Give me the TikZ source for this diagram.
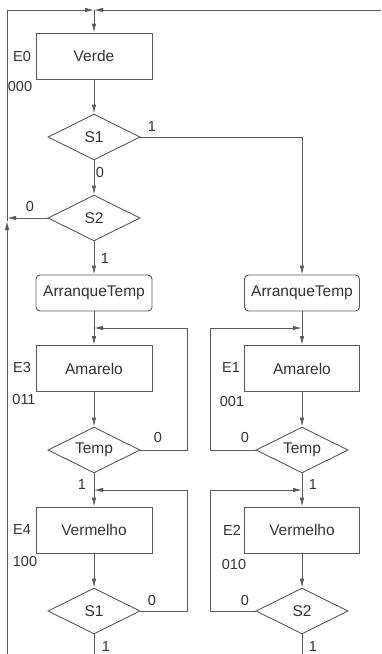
\documentclass[tikz,border=0pt]{standalone}
\usepackage{fontspec}
\setmainfont{Liberation Sans}
\usetikzlibrary{shapes.geometric,arrows.meta}
\definecolor{ink}{HTML}{5A5A5A}
\definecolor{txt}{HTML}{333333}
\tikzset{
  every node/.style={text=txt, font=\fontsize{15.5}{18}\selectfont},
  line/.style={draw=ink, line width=0.9pt},
  arr/.style={line, -{Latex[length=9pt,width=4.5pt]}},
  statebox/.style={line, rectangle, minimum width=116pt, minimum height=46pt, inner sep=0pt},
  actbox/.style={line, rectangle, rounded corners=4pt, minimum width=116pt, minimum height=36pt, inner sep=0pt},
  test/.style={line, diamond, aspect=2, minimum width=92pt, minimum height=46pt, inner sep=0pt},
  tag/.style={font=\fontsize{14.5}{17}\selectfont, inner sep=0pt},
  bit/.style={font=\fontsize{14.5}{17}\selectfont, inner sep=0pt},
}
\begin{document}
\begin{tikzpicture}[x=1pt,y=-1pt]
\useasboundingbox (0,0) rectangle (381,654);

% ---- left column: state E0 and its tests
\node[statebox] (verde) at (94,56) {Verde};
\node[tag] (e0) at (22,57) {E0};
\node[tag] (c0) at (20,87) {000};
\node[test] (s1a) at (94,137) {S1};
\node[test] (s2a) at (94,218) {S2};

% ---- left column: E3 and E4
\node[actbox] (artl) at (94,293) {ArranqueTemp};
\node[statebox] (aml) at (94,368.5) {Amarelo};
\node[tag] (e3) at (22,368) {E3};
\node[tag] (c3) at (24,400) {011};
\node[test] (tmpl) at (94,450) {Temp};
\node[statebox] (verl) at (94,530) {Vermelho};
\node[tag] (e4) at (22,530) {E4};
\node[tag] (c4) at (25,562) {100};
\node[test] (s1b) at (94,611) {S1};

% ---- right column: E1 and E2
\node[actbox, minimum width=115pt] (artr) at (302,293) {ArranqueTemp};
\node[statebox, minimum width=115pt] (amr) at (302,368.5) {Amarelo};
\node[tag] (e1) at (231,368) {E1};
\node[tag] (c1) at (232,402) {001};
\node[test] (tmpr) at (302,450) {Temp};
\node[statebox, minimum width=115pt] (verr) at (302,530) {Vermelho};
\node[tag] (e2) at (232,530) {E2};
\node[tag] (c2) at (234,565) {010};
\node[test] (s2b) at (302,611) {S2};

% ---- branch values
\node[bit] (b1) at (152,127) {1};
\node[bit] (b2) at (100,173) {0};
\node[bit] (b3) at (30,207) {0};
\node[bit] (b4) at (105,259) {1};
\node[bit] (b5) at (158,438) {0};
\node[bit] (b6) at (82,485) {1};
\node[bit] (b7) at (152,601) {0};
\node[bit] (b8) at (106,647) {1};
\node[bit] (b9) at (245,438) {0};
\node[bit] (b10) at (313,485) {1};
\node[bit] (b11) at (245,601) {0};
\node[bit] (b12) at (313,647) {1};

% ---- junction points
\coordinate (j0) at (94,10);
\coordinate (tr) at (381,10);
\coordinate (tl) at (7,10);
\coordinate (lup) at (7,221);
\coordinate (lret) at (7,218);
\coordinate (lbot) at (7,654);
\coordinate (jl1) at (94,328);
\coordinate (lp1) at (187,328);
\coordinate (jl2) at (94,490);
\coordinate (lp2) at (187,490);
\coordinate (jr1) at (302,328);
\coordinate (rp1) at (210,328);
\coordinate (jr2) at (302,490);
\coordinate (rp2) at (210,490);
\coordinate (outl) at (94,654);
\coordinate (outr) at (302,654);

% ---- return lines into E0
\draw[arr] (tr) -- (j0);
\draw[arr] (lup) -- (tl) -- (j0);
\draw[arr] (lbot) -- (lup);
\draw[arr] (j0) -- (verde);

% ---- flow of the left column
\draw[arr] (verde) -- (s1a);
\draw[arr] (s1a) -- (s2a);
\draw[arr] (s2a.west) -- (lret);
\draw[arr] (s2a) -- (artl);
\draw[arr] (artl) -- (aml);
\draw[arr] (tmpl.east) -| (lp1) -- (jl1);
\draw[arr] (aml) -- (tmpl);
\draw[arr] (tmpl) -- (verl);
\draw[arr] (s1b.east) -| (lp2) -- (jl2);
\draw[arr] (verl) -- (s1b);
\draw[line] (s1b.south) -- (outl);

% ---- flow of the right column
\draw[arr] (s1a.east) -| (artr.north);
\draw[arr] (artr) -- (amr);
\draw[arr] (tmpr.west) -| (rp1) -- (jr1);
\draw[arr] (amr) -- (tmpr);
\draw[arr] (tmpr) -- (verr);
\draw[arr] (s2b.west) -| (rp2) -- (jr2);
\draw[arr] (verr) -- (s2b);
\draw[line] (s2b.south) -- (outr);
\end{tikzpicture}
\end{document}
